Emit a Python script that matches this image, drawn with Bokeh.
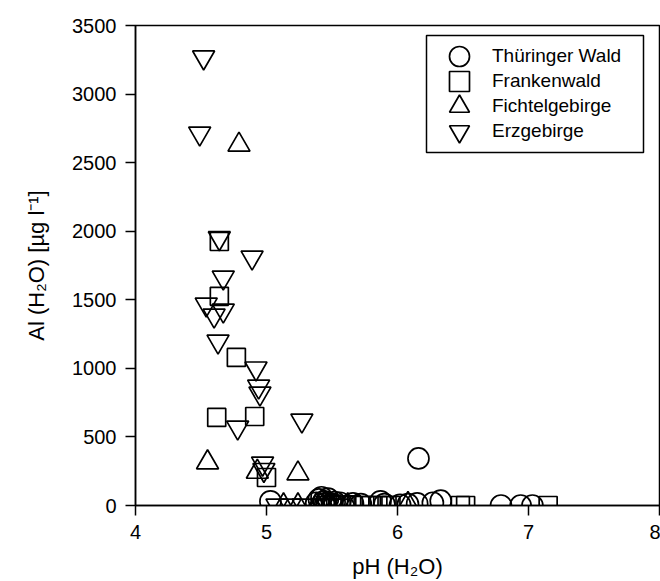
from bokeh.plotting import figure
from bokeh.models import FixedTicker, Range1d, Legend, LegendItem, BoxAnnotation
from bokeh.embed import file_html
from bokeh.resources import INLINE

# Water-extractable aluminium vs. soil pH for four forest regions
thuringer_ph = [5.03, 5.38, 5.40, 5.42, 5.44, 5.45, 5.47, 5.50, 5.52, 5.56, 5.66, 5.72,
                5.87, 5.90, 6.02, 6.08, 6.15, 6.16, 6.27, 6.33, 6.79, 6.94, 7.03]
thuringer_al = [30, 20, 45, 60, 30, 15, 50, 10, 25, 20, 15, 10,
                30, 10, 5, 10, 15, 343, 20, 35, 0, 0, 0]

franken_ph = [4.64, 4.64, 4.77, 4.62, 4.91, 5.00, 5.45, 5.50, 5.55, 5.60, 5.65,
              5.75, 5.80, 5.85, 5.92, 5.95, 6.48, 6.52, 7.15]
franken_al = [1925, 1525, 1080, 642, 649, 204, 0, 10, 0, 0, 5,
              0, 0, 0, 0, 0, 0, 0, 0]

fichtel_ph = [4.79, 4.55, 4.93, 5.24, 5.13, 5.24, 5.38, 5.44, 5.48, 5.62, 6.08]
fichtel_al = [2630, 314, 245, 233, 0, 0, 0, 10, 0, 0, 10]

erz_ph = [4.52, 4.49, 4.64, 4.89, 4.67, 4.54, 4.67, 4.60, 4.63, 4.92, 4.94, 4.95,
          4.78, 5.27, 4.97, 4.98, 5.08, 5.18, 5.28, 5.42, 5.46, 5.50, 5.55]
erz_al = [3268, 2713, 1950, 1809, 1663, 1466, 1422, 1386, 1196, 1000, 868, 817,
          569, 620, 306, 260, 0, 0, 0, 0, 0, 0, 0]

regions = ["Thüringer Wald", "Frankenwald", "Fichtelgebirge", "Erzgebirge"]

x_ticks = [4, 5, 6, 7, 8]
y_ticks = [0, 500, 1000, 1500, 2000, 2500, 3000, 3500]

FONT = "Liberation Sans"

p = figure(width=660, height=581, output_backend="svg", toolbar_location=None,
           x_range=Range1d(4, 8), y_range=Range1d(0, 3500),
           min_border_left=135, min_border_right=1, min_border_top=25, min_border_bottom=76)

p.grid.visible = False
p.outline_line_color = "black"
p.outline_line_width = 1.5
p.background_fill_color = "white"
p.border_fill_color = "white"

for ax in (p.xaxis[0], p.yaxis[0]):
    ax.axis_line_width = 1.5
    ax.major_tick_line_width = 1.5
    ax.major_tick_out = 10
    ax.major_tick_in = 0
    ax.minor_tick_out = 0
    ax.minor_tick_in = 0
    ax.major_label_text_font = FONT
    ax.major_label_text_font_size = "20px"
    ax.major_label_text_color = "black"
    ax.axis_label_text_font = FONT
    ax.axis_label_text_font_size = "22px"
    ax.axis_label_text_font_style = "normal"
    ax.axis_label_text_color = "black"
    ax.major_label_standoff = 9

p.xaxis.ticker = FixedTicker(ticks=x_ticks)
p.yaxis.ticker = FixedTicker(ticks=y_ticks)
p.xaxis.axis_label = "pH (H\u2082O)"
p.yaxis.axis_label = "Al (H\u2082O) [\u00b5g l\u207b\u00b9]"
p.xaxis.axis_label_standoff = 12
p.yaxis.axis_label_standoff = 20

style = dict(fill_alpha=0, line_color="black", line_width=1.7)
r_thu = p.scatter(thuringer_ph, thuringer_al, marker="circle", size=21, **style)
r_fra = p.scatter(franken_ph, franken_al, marker="square", size=18, **style)
r_fic = p.scatter(fichtel_ph, fichtel_al, marker="triangle", size=22, **style)
r_erz = p.scatter(erz_ph, erz_al, marker="inverted_triangle", size=22, **style)

# Legend frame (screen offsets from the frame's bottom-left corner)
p.add_layout(BoxAnnotation(left=291, right=508, bottom=353, top=470,
                           left_units="screen", right_units="screen",
                           bottom_units="screen", top_units="screen",
                           fill_color="white", fill_alpha=1,
                           line_color="black", line_width=1.5, line_alpha=1))

# One single-entry legend per row so the symbols keep a readable size
row_centers = [56, 81, 106, 131]
for name, rend, cy in zip(regions, [r_thu, r_fra, r_fic, r_erz], row_centers):
    lg = Legend(items=[LegendItem(label=name, renderers=[rend])],
                location=(291, 505 - (cy + 25)),
                glyph_width=66, glyph_height=50, padding=0, margin=0, spacing=0,
                label_standoff=0, label_width=150,
                label_text_font=FONT, label_text_font_size="19px",
                label_text_color="black",
                border_line_alpha=0, background_fill_alpha=0)
    p.add_layout(lg, "center")

open("out.html", "w").write(file_html(p, INLINE))
